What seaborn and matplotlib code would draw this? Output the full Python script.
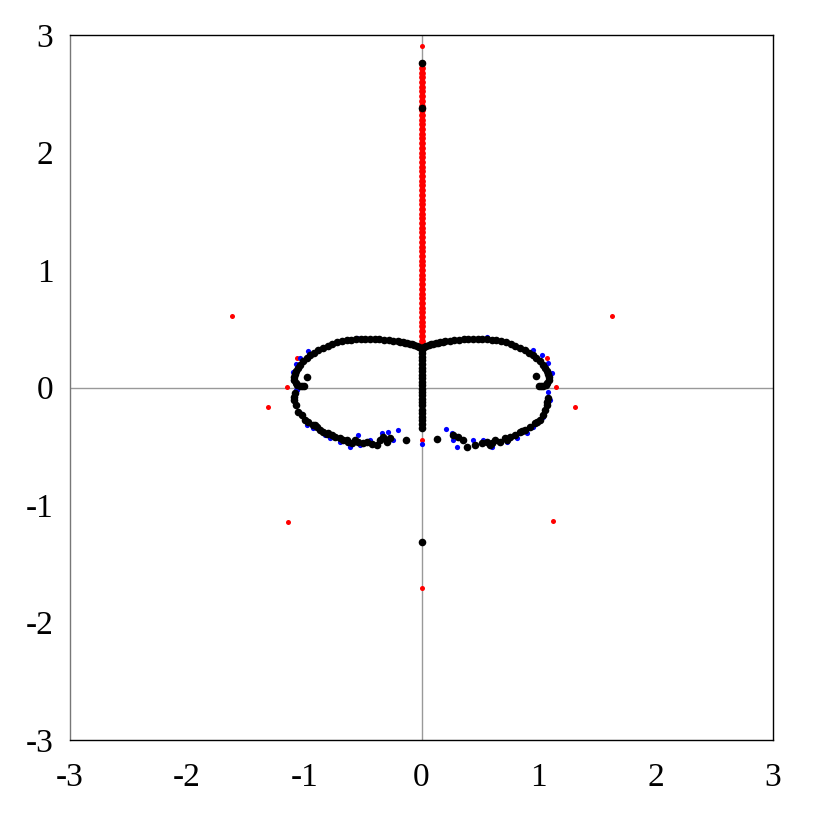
import numpy as np
import pandas as pd
import matplotlib
matplotlib.use("Agg")
import matplotlib.pyplot as plt
import seaborn as sns

# ---------------- data ----------------
# red: dense vertical run on the imaginary axis
red_line_y = [0.36, 0.40, 0.44, 0.48, 0.52, 0.56, 0.60, 0.64, 0.68, 0.72, 0.76, 0.80,
              0.84, 0.88, 0.92, 0.96, 1.00, 1.04, 1.08, 1.12, 1.16, 1.20, 1.24, 1.28,
              1.32, 1.36, 1.40, 1.44, 1.48, 1.52, 1.56, 1.60, 1.64, 1.68, 1.72, 1.76,
              1.80, 1.84, 1.88, 1.92, 1.96, 2.00, 2.04, 2.08, 2.12, 2.16, 2.20, 2.24,
              2.28, 2.32, 2.36, 2.40, 2.44, 2.48, 2.52, 2.56, 2.60, 2.64, 2.68, 2.72, 2.76]
red_x = [-1.62, 1.63, -1.31, 1.31, -1.14, 1.12, 0.0, 0.0,
         -1.065, 1.068, -1.145, 1.148, 0.0, 0.0, 0.0]
red_y = [0.61, 0.61, -0.17, -0.17, -1.145, -1.14, -1.71, 2.91,
         0.253, 0.254, 0.007, 0.007, -0.078, -0.169, -0.447]

# black: upper arcs (left then right), hooks, lower arcs, imaginary axis
black_upper_left_x = [0.0, -0.02, -0.04, -0.06, -0.08, -0.10, -0.12, -0.14, -0.16, -0.18,
                      -0.20, -0.24, -0.28, -0.32, -0.36,
                      -0.40, -0.44, -0.48, -0.52, -0.56, -0.60, -0.64, -0.68, -0.72, -0.76,
                      -0.80, -0.84, -0.88, -0.92, -0.95, -0.98, -1.01, -1.035, -1.055, -1.07,
                      -1.08, -1.085, -1.085, -1.075, -1.06, -1.04, -1.02, -1.00, -0.98]
black_upper_left_y = [0.34, 0.348, 0.355, 0.362, 0.368, 0.373, 0.378, 0.382, 0.386, 0.390,
                      0.393, 0.399, 0.404, 0.408, 0.410,
                      0.412, 0.413, 0.413, 0.412, 0.410, 0.406, 0.401, 0.394, 0.384, 0.372,
                      0.357, 0.340, 0.320, 0.297, 0.275, 0.250, 0.222, 0.195, 0.167, 0.140,
                      0.113, 0.087, 0.062, 0.040, 0.025, 0.015, 0.010, 0.012, 0.090]
black_upper_right_x = [0.02, 0.04, 0.06, 0.08, 0.10, 0.12, 0.14, 0.16, 0.18, 0.20, 0.24,
                       0.28, 0.32, 0.36,
                       0.40, 0.44, 0.48, 0.52, 0.56, 0.60, 0.64, 0.68, 0.72, 0.76,
                       0.80, 0.84, 0.88, 0.92, 0.95, 0.98, 1.01, 1.035, 1.055, 1.07,
                       1.08, 1.085, 1.085, 1.075, 1.06, 1.04, 1.02, 1.00, 0.977]
black_upper_right_y = [0.348, 0.355, 0.362, 0.368, 0.373, 0.378, 0.382, 0.386, 0.390, 0.393,
                       0.399, 0.404, 0.408, 0.410,
                       0.412, 0.413, 0.413, 0.412, 0.410, 0.406, 0.401, 0.394, 0.384, 0.372,
                       0.357, 0.340, 0.320, 0.297, 0.275, 0.250, 0.222, 0.195, 0.167, 0.140,
                       0.113, 0.087, 0.062, 0.040, 0.025, 0.015, 0.010, 0.012, 0.098]
black_lower_left_x = [-1.079, -1.088, -1.071, -1.051, -1.022, -0.994, -0.966, -0.923, -0.894,
                      -0.866, -0.838, -0.795, -0.766, -0.738, -0.695, -0.667, -0.624, -0.596,
                      -0.567, -0.539, -0.497, -0.468, -0.382, -0.354, -0.326, -0.297, -0.269,
                      -0.132, -1.085, -0.910, -0.810, -0.640, -0.420]
black_lower_left_y = [-0.050, -0.106, -0.149, -0.206, -0.234, -0.277, -0.291, -0.319, -0.334,
                      -0.362, -0.376, -0.390, -0.404, -0.419, -0.433, -0.447, -0.461, -0.475,
                      -0.447, -0.461, -0.475, -0.461, -0.489, -0.447, -0.419, -0.461, -0.433,
                      -0.447, -0.085, -0.320, -0.395, -0.450, -0.480]
black_lower_right_x = [1.082, 1.068, 1.054, 1.034, 1.011, 0.968, 0.926, 0.883, 0.840, 0.798,
                       0.755, 0.712, 0.670, 0.627, 0.584, 0.556, 0.514, 0.456, 0.386, 0.357,
                       0.314, 0.271, 0.135, 1.075, 0.990, 0.860, 0.730, 0.600]
black_lower_right_y = [-0.092, -0.149, -0.191, -0.234, -0.277, -0.305, -0.334, -0.362, -0.376,
                       -0.404, -0.419, -0.433, -0.461, -0.447, -0.489, -0.461, -0.475, -0.489,
                       -0.504, -0.447, -0.419, -0.404, -0.441, -0.120, -0.295, -0.370,
                       -0.445, -0.470]
black_axis_y = [0.32, 0.29, 0.26, 0.23, 0.20, 0.17, 0.14, 0.11, 0.08, 0.05, 0.02, -0.01,
                -0.04, -0.06, -0.10, -0.12, -0.15, -0.19, -0.22, -0.25, -0.28, -0.31,
                -0.345, -1.315, 2.764, 2.376]

# blue
blue_x = [-1.071, -1.037, -0.980, -0.923, -0.823, -0.781, -0.695, -0.610, -0.539, -0.525,
          -0.439, -0.340, -0.283, -0.241, -0.203,
          1.082, 1.096, 1.039, 0.954, 0.898, 0.812, 0.727, 0.599, 0.527, 0.442, 0.300,
          0.258, 0.209, 0.271,
          1.111, 1.082, 1.026, 0.954, 0.556, 1.054,
          -1.100, -1.095, -1.075, -1.040, -0.965, -0.550, -1.065,
          0.0, 0.0]
blue_y = [-0.021, -0.220, -0.319, -0.347, -0.404, -0.433, -0.461, -0.504, -0.404, -0.489,
          -0.447, -0.390, -0.376, -0.447, -0.362,
          -0.036, -0.106, -0.248, -0.334, -0.390, -0.433, -0.461, -0.504, -0.447, -0.447,
          -0.504, -0.390, -0.356, -0.447,
          0.121, 0.206, 0.277, 0.319, 0.427, 0.021,
          0.060, 0.130, 0.200, 0.255, 0.310, 0.425, -0.020,
          -0.129, -0.480]

# ---------------- assemble ----------------
red_line_df = pd.DataFrame({"x": [0.0] * len(red_line_y), "y": red_line_y})
red_df = pd.DataFrame({"x": red_x, "y": red_y})
black_df = pd.DataFrame({
    "x": black_upper_left_x + black_upper_right_x + black_lower_left_x
         + black_lower_right_x + [0.0] * len(black_axis_y),
    "y": black_upper_left_y + black_upper_right_y + black_lower_left_y
         + black_lower_right_y + black_axis_y})
blue_df = pd.DataFrame({"x": blue_x, "y": blue_y})

# ---------------- plot ----------------
sns.set_theme(style="white")
plt.rcParams["font.family"] = ["Liberation Serif", "DejaVu Serif"]

fig = plt.figure(figsize=(8.17, 8.17), dpi=100)
ax = fig.add_axes([70 / 817, 77 / 817, 703 / 817, 705 / 817])

ax.axhline(0, color="#999999", lw=1.0, zorder=0.5)
ax.axvline(0, color="#999999", lw=1.0, zorder=0.5)

sns.scatterplot(data=red_line_df, x="x", y="y", color="#ff0000", s=24, linewidth=0, ax=ax, zorder=2)
sns.scatterplot(data=red_df, x="x", y="y", color="#ff0000", s=13, linewidth=0, ax=ax, zorder=2)
sns.scatterplot(data=blue_df, x="x", y="y", color="#0000ff", s=14, linewidth=0, ax=ax, zorder=3)
sns.scatterplot(data=black_df, x="x", y="y", color="#000000", s=30, linewidth=0, ax=ax, zorder=4)

ax.set_xlim(-3, 3)
ax.set_ylim(-3, 3)
ticks = [-3, -2, -1, 0, 1, 2, 3]
ax.set_xticks(ticks)
ax.set_yticks(ticks)
ax.set_xticklabels([str(t) for t in ticks])
ax.set_yticklabels([str(t) for t in ticks])
ax.set_xlabel("")
ax.set_ylabel("")

ax.tick_params(axis="both", direction="in", length=11, width=1, colors="#000000",
               labelsize=24, top=False, right=False)
ax.tick_params(axis="x", pad=16)
ax.tick_params(axis="y", pad=12)

for side in ["top", "right", "bottom"]:
    ax.spines[side].set_color("#000000")
    ax.spines[side].set_linewidth(1.0)
ax.spines["left"].set_color("#777777")
ax.spines["left"].set_linewidth(1.0)

fig.savefig("out.png", dpi=100, facecolor="white")
